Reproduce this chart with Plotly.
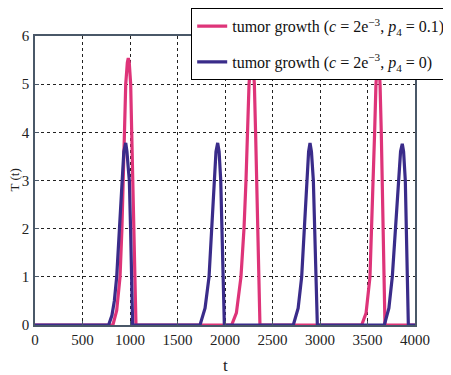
import plotly.graph_objects as go

# Series: tumor growth (c = 2e-3, p4 = 0.1)  -- pink
t_pink = [0, 820, 860, 895, 915, 929, 944, 955, 972, 982, 992, 1007, 1018, 1028, 1036, 1045, 1055, 1063,
          2070, 2120, 2168, 2200, 2221, 2239, 2253, 2270, 2282, 2294, 2309, 2322, 2333, 2343, 2351, 2360, 2368,
          3439, 3485, 3526, 3545, 3561, 3575, 3589, 3602, 3610, 3620, 3632, 3645, 3656, 3665, 3674, 3680, 3684, 4000]
T_pink = [0, 0, 0.3, 1, 2, 3, 4, 5, 5.45, 5.54, 5.45, 5, 4, 3, 2, 1, 0.3, 0,
          0, 0.25, 1, 2, 3, 4, 5, 5.45, 5.55, 5.45, 5, 4, 3, 2, 1, 0.3, 0,
          0, 0.25, 1, 2, 3, 4, 5, 5.45, 5.55, 5.45, 5, 4, 3, 2, 1, 0.3, 0, 0]

# Series: tumor growth (c = 2e-3, p4 = 0)  -- blue
t_blue = [0, 775, 810, 835, 860, 888, 916, 935, 955, 968, 980, 993, 1006, 1018, 1024, 1028,
          1737, 1790, 1832, 1860, 1884, 1905, 1923, 1938, 1955, 1967, 1979, 1987, 1993,
          2719, 2770, 2807, 2832, 2860, 2880, 2895, 2910, 2930, 2943, 2955, 2965, 2972,
          3677, 3725, 3761, 3797, 3825, 3848, 3866, 3880, 3898, 3907, 3916, 3924, 3930, 4000]
T_blue = [0, 0, 0.2, 0.5, 1, 2, 3, 3.6, 3.78, 3.6, 3.3, 3, 2, 1, 0.3, 0,
          0, 0.35, 1, 2, 3, 3.6, 3.78, 3.6, 3, 2, 1, 0.3, 0,
          0, 0.35, 1, 2, 3, 3.6, 3.78, 3.6, 3, 2, 1, 0.3, 0,
          0, 0.35, 1, 2, 3, 3.6, 3.76, 3.6, 3, 2, 1, 0.3, 0, 0]

x_ticks = [0, 500, 1000, 1500, 2000, 2500, 3000, 3500, 4000]
y_ticks = [0, 1, 2, 3, 4, 5, 6]

name_pink = "tumor growth (<i>c</i> = 2e<sup>−3</sup>, <i>p</i><sub>4</sub> = 0.1)"
name_blue = "tumor growth (<i>c</i> = 2e<sup>−3</sup>, <i>p</i><sub>4</sub> = 0)"
x_title = "t"
y_title = "T (t)"

PINK = "#DE3479"
BLUE = "#3A2C8A"
AX = "#4A5868"
FONT = "Liberation Serif, Times New Roman, serif"

fig = go.Figure()
fig.add_trace(go.Scatter(x=t_pink, y=T_pink, mode="lines", name=name_pink,
                         line=dict(color=PINK, width=3.2), legendgroup="a"))
fig.add_trace(go.Scatter(x=t_blue, y=T_blue, mode="lines", name=name_blue,
                         line=dict(color=BLUE, width=3.2), legendgroup="b"))

axis_common = dict(
    showline=True, linecolor=AX, linewidth=1.5, mirror=True,
    showgrid=True, gridcolor="#222222", griddash="dot", gridwidth=1,
    zeroline=False, ticks="inside", ticklen=4, tickcolor=AX,
    tickfont=dict(family=FONT, size=15, color="#222222"),
)

# page body has an 8px default margin, so the figure is sized/offset to compensate
fig.update_layout(
    width=443, height=367,
    margin=dict(l=27, r=36, t=28, b=50, autoexpand=False),
    paper_bgcolor="white", plot_bgcolor="white",
    font=dict(family=FONT, size=15, color="#222222"),
    xaxis=dict(range=[0, 4000], tickvals=x_ticks, ticktext=[str(v) for v in x_ticks],
               **axis_common),
    yaxis=dict(range=[0, 6], tickvals=y_ticks, ticktext=[str(v) for v in y_ticks],
               ticklabelstandoff=1, **axis_common),
    legend=dict(x=0.4105, y=1.0969, xanchor="left", yanchor="top",
                bgcolor="white", bordercolor="black", borderwidth=1.2,
                font=dict(family=FONT, size=16, color="#111111"),
                tracegroupgap=12, itemwidth=30),
    showlegend=True,
)

fig.add_annotation(text=x_title, xref="paper", yref="paper", x=0.5, y=0,
                   yshift=-40, xanchor="center", yanchor="middle", showarrow=False,
                   font=dict(family=FONT, size=17, color="#222222"))
fig.add_annotation(text=y_title, xref="paper", yref="paper", x=0, y=0.5,
                   xshift=-21, xanchor="center", yanchor="middle", showarrow=False,
                   textangle=-90, font=dict(family=FONT, size=13, color="#222222"))

fig.write_html("out.html")
